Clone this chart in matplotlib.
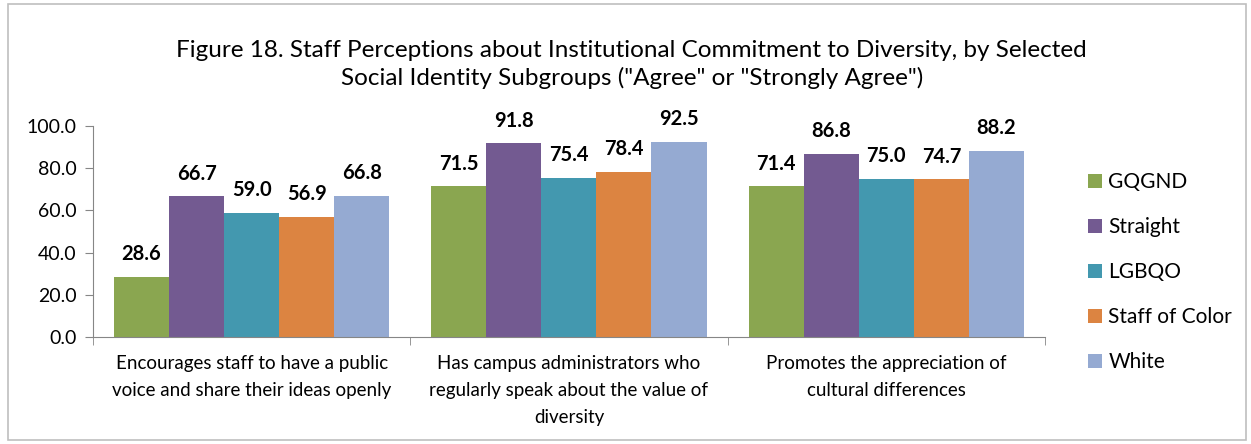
import numpy as np
import matplotlib
matplotlib.use("Agg")
from matplotlib import pyplot as plt
from matplotlib.patches import Rectangle

categories = ["Encourages staff to have a public\nvoice and share their ideas openly",
              "Has campus administrators who\nregularly speak about the value of\ndiversity",
              "Promotes the appreciation of\ncultural differences"]
groups = ["GQGND", "Straight", "LGBQO", "Staff of Color", "White"]
gqgnd = [28.6, 71.5, 71.4]
straight = [66.7, 91.8, 86.8]
lgbqo = [59.0, 75.4, 75.0]
staff_of_color = [56.9, 78.4, 74.7]
white = [66.8, 92.5, 88.2]
series = [gqgnd, straight, lgbqo, staff_of_color, white]
colors = ["#8AA650", "#735A91", "#4398AF", "#DC8441", "#95AAD2"]

plt.rcParams['font.family'] = ['Lato', 'DejaVu Sans']

fig = plt.figure(figsize=(12.51, 4.44), dpi=100)
# light frame round the chart
fig.patches.append(Rectangle((0.006, 0.01), 0.99, 0.98, transform=fig.transFigure,
                             fill=False, edgecolor="#BFBFBF", linewidth=1.2))

ax = fig.add_axes([0.0743, 0.241, 0.761, 0.475])
x = np.arange(len(categories))
w = 0.867 / len(series)
for i, (vals, name, c) in enumerate(zip(series, groups, colors)):
    pos = x - 0.867 / 2 + w * (i + 0.5)
    ax.bar(pos, vals, width=w, color=c, label=name)
    for p, v in zip(pos, vals):
        ax.text(p, v + 6, f"{v:.1f}", ha="center", va="bottom",
                fontsize=14.5, fontweight="bold")

ax.set_xlim(-0.5, len(categories) - 0.5)
ax.set_ylim(0, 100)
ax.set_yticks(np.arange(0, 101, 20))
ax.set_yticklabels([f"{v:.1f}" for v in np.arange(0, 101, 20)], fontsize=14)
ax.set_xticks(x)
ax.set_xticklabels(categories, fontsize=13.5, va="top", linespacing=1.7)
ax.set_xticks(np.arange(-0.5, len(categories)), minor=True)
ax.tick_params(axis="x", which="major", length=0, pad=13)
ax.tick_params(axis="x", which="minor", length=6, color="#868686", direction="out")
ax.tick_params(axis="y", length=6, color="#868686", pad=6)
for s in ["top", "right"]:
    ax.spines[s].set_visible(False)
for s in ["left", "bottom"]:
    ax.spines[s].set_color("#868686")

fig.text(0.505, 0.855, "Figure 18. Staff Perceptions about Institutional Commitment to Diversity, by Selected\n"
         "Social Identity Subgroups (\"Agree\" or \"Strongly Agree\")",
         ha="center", va="center", fontsize=17.5, linespacing=1.35)

ax.legend(loc="upper left", bbox_to_anchor=(1.025, 0.87), frameon=False, fontsize=15,
          handlelength=0.7, handleheight=0.7, handletextpad=0.3, labelspacing=1.2)

fig.savefig("out.png", dpi=100)
